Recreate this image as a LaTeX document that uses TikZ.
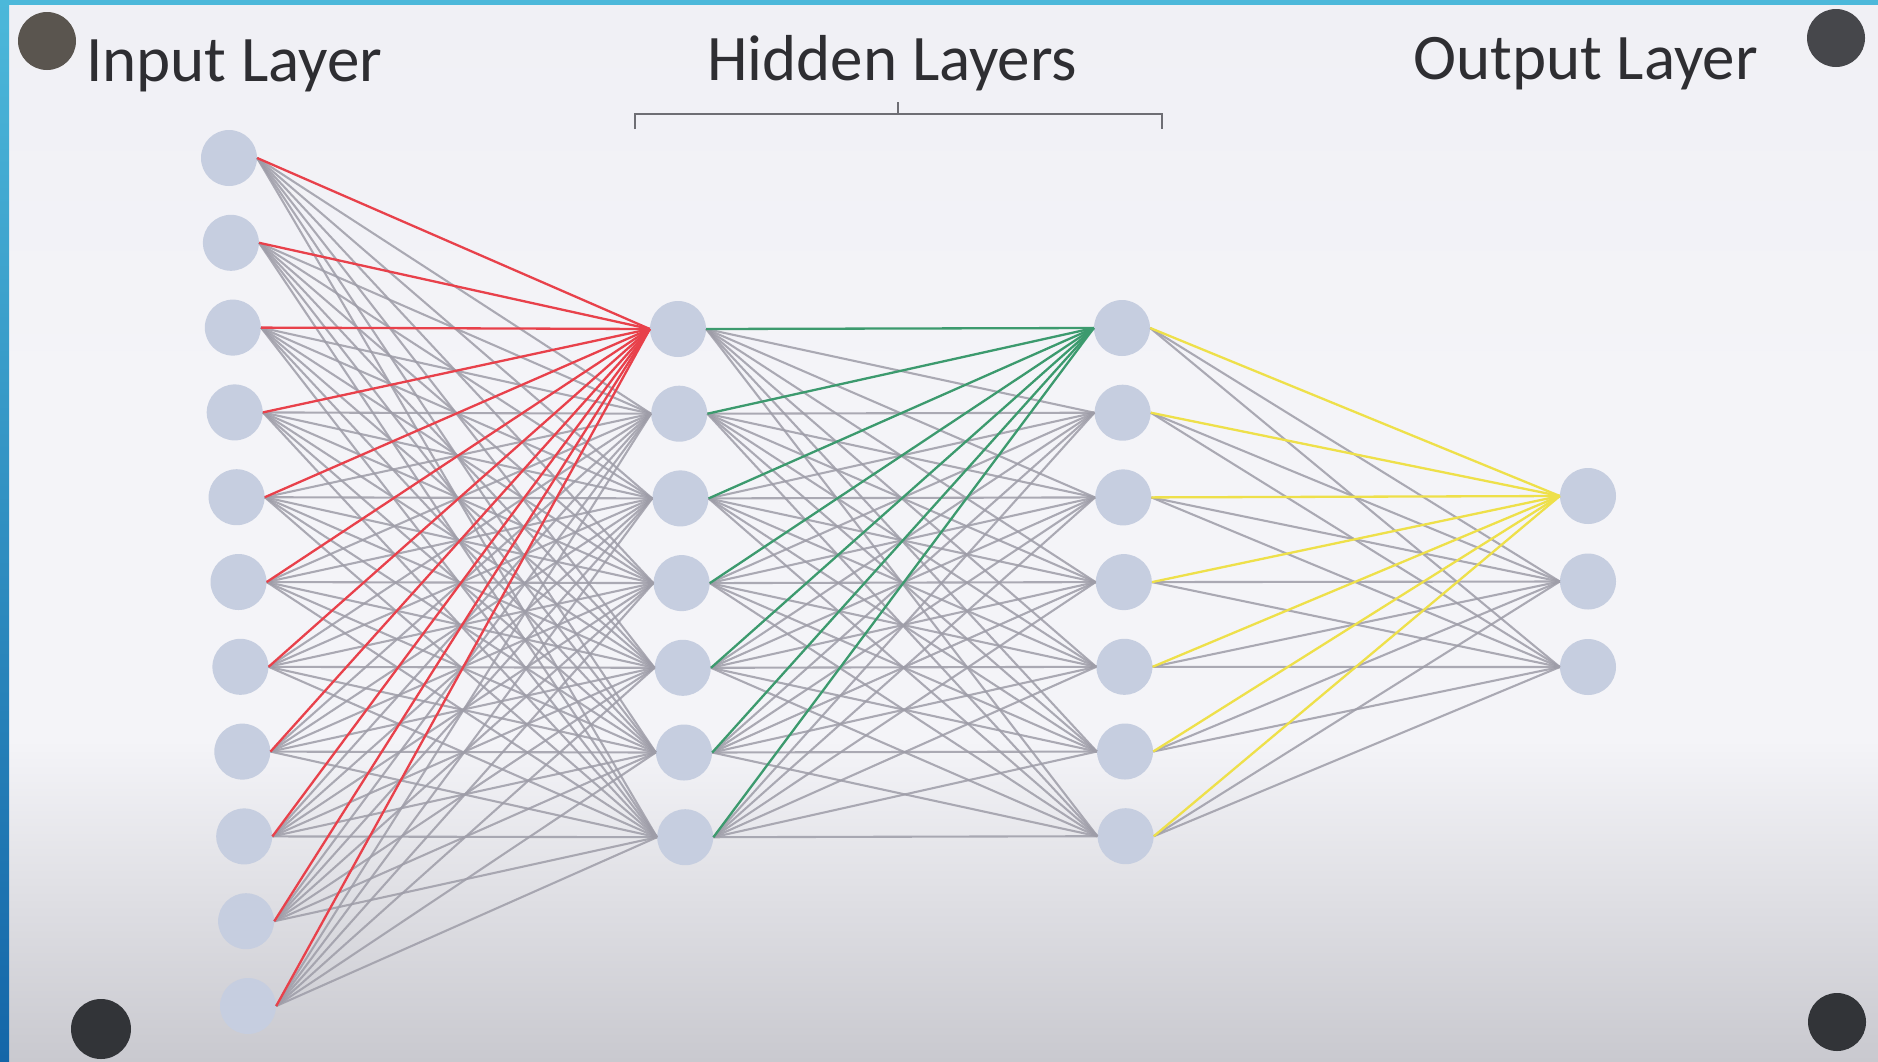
\documentclass[tikz,border=0pt]{standalone}
\usepackage{fontspec}
\setmainfont{Carlito}
\definecolor{nodefill}{HTML}{C6CEE0}
\definecolor{edgegray}{HTML}{9E9DA8}
\definecolor{edgered}{HTML}{E8414B}
\definecolor{edgegreen}{HTML}{3C9A6E}
\definecolor{edgeyellow}{HTML}{EEE04A}
\definecolor{txt}{HTML}{2E2E32}
\definecolor{bgtop}{HTML}{F0F0F5}
\definecolor{bgmid}{HTML}{F4F4F8}
\definecolor{bgbot}{HTML}{C9C9CF}
\definecolor{bluetop}{HTML}{4CB8DA}
\definecolor{bluebot}{HTML}{1466A8}
\definecolor{magA}{HTML}{5A554F}
\definecolor{magB}{HTML}{46474B}
\definecolor{magC}{HTML}{323438}
\definecolor{brk}{HTML}{6E6E74}
\begin{document}
\begin{tikzpicture}[x=1pt,y=-1pt,
  neuron/.style={circle,fill=nodefill,draw=none,minimum size=56pt,inner sep=0pt},
  grayedge/.style={draw=edgegray,line width=2.1pt,opacity=0.85},
  rededge/.style={draw=edgered,line width=2.3pt},
  greenedge/.style={draw=edgegreen,line width=2.3pt},
  yellowedge/.style={draw=edgeyellow,line width=2.3pt},
  title/.style={font=\fontsize{65}{65}\selectfont,text=txt,inner sep=0pt,anchor=base west},
  bracketline/.style={draw=brk,line width=1.5pt}]
\useasboundingbox (0,0) rectangle (1878,1061);
% background
\shade[top color=bgtop,bottom color=bgmid] (0,0) rectangle (1878,400);
\fill[bgmid] (0,399) rectangle (1878,741);
\shade[top color=bgmid,bottom color=bgbot] (0,740) rectangle (1878,1061);
\fill[bluetop] (0,0) rectangle (1878,5);
\shade[top color=bluetop,bottom color=bluebot] (0,0) rectangle (9,1061);
% magnets
\fill[magA] (47,41) circle (29);
\fill[magB] (1836,38) circle (29);
\fill[magC] (101,1029) circle (30);
\fill[magC] (1837,1022) circle (29);
% labels
\node[title] (lin) at (86,81) {Input Layer};
\node[title] (lhid) at (707,80) {Hidden Layers};
\node[title] (lout) at (1413,79) {Output Layer};
% bracket
\draw[bracketline] (635,129) -- (635,114) -- (1162,114) -- (1162,129);
\draw[bracketline] (898,114) -- (898,102);
% neurons
\foreach \i in {1,...,11}{
  \pgfmathsetmacro\xx{229+(\i-1)*1.9}
  \pgfmathsetmacro\yy{158+(\i-1)*84.8}
  \node[neuron] (in\i) at (\xx,\yy) {};
}
\foreach \j in {1,...,7}{
  \pgfmathsetmacro\xx{678+(\j-1)*1.2}
  \pgfmathsetmacro\yy{329+(\j-1)*84.7}
  \node[neuron] (ha\j) at (\xx,\yy) {};
  \pgfmathsetmacro\xb{1122+(\j-1)*0.6}
  \pgfmathsetmacro\yb{328+(\j-1)*84.7}
  \node[neuron] (hb\j) at (\xb,\yb) {};
}
\foreach \k in {1,...,3}{
  \pgfmathsetmacro\yy{496+(\k-1)*85.5}
  \node[neuron] (out\k) at (1588,\yy) {};
}
% gray connections
\foreach \i in {1,...,11}{
  \foreach \j in {2,...,7}{
    \draw[grayedge] (in\i.east) -- (ha\j.west);
  }
}
\foreach \i in {1,...,7}{
  \foreach \j in {2,...,7}{
    \draw[grayedge] (ha\i.east) -- (hb\j.west);
  }
  \foreach \k in {2,3}{
    \draw[grayedge] (hb\i.east) -- (out\k.west);
  }
}
% coloured connections
\foreach \i in {1,...,11}{ \draw[rededge] (in\i.east) -- (ha1.west); }
\foreach \i in {1,...,7}{ \draw[greenedge] (ha\i.east) -- (hb1.west); }
\foreach \i in {1,...,7}{ \draw[yellowedge] (hb\i.east) -- (out1.west); }
\end{tikzpicture}
\end{document}
